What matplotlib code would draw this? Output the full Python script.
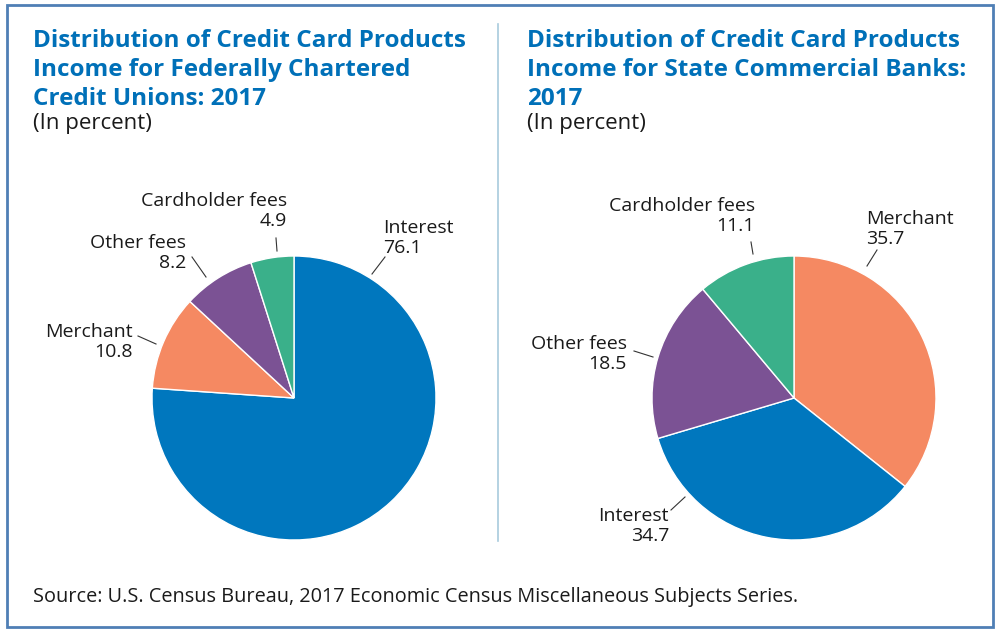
import matplotlib.pyplot as plt
from matplotlib.patches import Rectangle
from matplotlib.lines import Line2D

# data
fcu_labels = ['Interest', 'Merchant', 'Other fees', 'Cardholder fees']
fcu_values = [76.1, 10.8, 8.2, 4.9]
scb_labels = ['Merchant', 'Interest', 'Other fees', 'Cardholder fees']
scb_values = [35.7, 34.7, 18.5, 11.1]

colors = {'Interest': '#0077BE', 'Merchant': '#F58962',
          'Other fees': '#7B5294', 'Cardholder fees': '#3AB08A'}

title_fcu = 'Distribution of Credit Card Products\nIncome for Federally Chartered\nCredit Unions: 2017'
title_scb = 'Distribution of Credit Card Products\nIncome for State Commercial Banks:\n2017'
source = 'Source: U.S. Census Bureau, 2017 Economic Census Miscellaneous Subjects Series.'

plt.rcParams['font.family'] = ['Open Sans', 'DejaVu Sans']

W, H = 1000, 634
fig = plt.figure(figsize=(10, 6.34), dpi=100)


def fx(px):
    return px / W


def fy(py):
    return 1 - py / H


# border
fig.add_artist(Rectangle((fx(7), fy(627)), fx(986), 622 / H, transform=fig.transFigure,
                         fill=False, edgecolor='#4F7FB5', linewidth=2))
# divider
fig.add_artist(Line2D([fx(498), fx(498)], [fy(24), fy(541)], transform=fig.transFigure,
                      color='#A8CBDD', linewidth=1.2))

# titles
for x0, t in [(33, title_fcu), (527, title_scb)]:
    fig.text(fx(x0), fy(29), t, ha='left', va='top', fontsize=17.5, fontweight='bold',
             color='#0070B8', linespacing=1.28)
    fig.text(fx(x0), fy(113), '(In percent)', ha='left', va='top', fontsize=16,
             color='#1a1a1a')

fig.text(fx(33), fy(597), source, ha='left', va='center', fontsize=14.3, color='#1a1a1a')

R = 142


def draw_pie(cx, cy, labels, values, label_pos):
    ax = fig.add_axes([fx(cx - R), fy(cy + R), 2 * R / W, 2 * R / H])
    wedges, _ = ax.pie(values, colors=[colors[l] for l in labels], startangle=90,
                       counterclock=False, radius=1,
                       wedgeprops=dict(edgecolor='white', linewidth=1))
    ax.set_xlim(-1, 1)
    ax.set_ylim(-1, 1)
    ax.set_aspect('auto')
    for w, lab, val in zip(wedges, labels, values):
        tx, ty, ha, (l0, l1) = label_pos[lab]
        fig.text(fx(tx), fy(ty), f'{lab}\n{val}', ha=ha, va='center', fontsize=14,
                 color='#1a1a1a', linespacing=1.2, multialignment=ha)
        fig.add_artist(Line2D([fx(l0[0]), fx(l1[0])], [fy(l0[1]), fy(l1[1])],
                              transform=fig.transFigure, color='#333333', linewidth=0.8))


draw_pie(294, 398, fcu_labels, fcu_values, {
    'Interest': (383, 238, 'left', ((372, 274), (385, 257))),
    'Merchant': (133, 342, 'right', ((138, 336), (156, 344))),
    'Other fees': (186, 253, 'right', ((192, 257), (206, 277))),
    'Cardholder fees': (287, 211, 'right', ((276, 238), (277, 251))),
})
draw_pie(794, 398, scb_labels, scb_values, {
    'Merchant': (866, 229, 'left', ((877, 250), (867, 266))),
    'Interest': (669, 526, 'right', ((671, 510), (685, 497))),
    'Other fees': (627, 354, 'right', ((634, 351), (653, 357))),
    'Cardholder fees': (755, 216, 'right', ((751, 242), (753, 254))),
})

fig.savefig('out.png', dpi=100)
